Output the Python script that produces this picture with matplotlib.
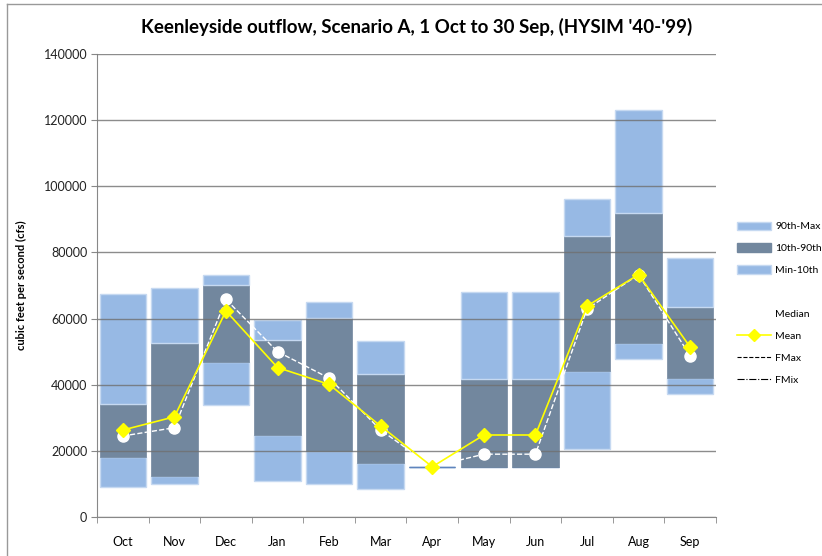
import numpy as np
import matplotlib
matplotlib.use("Agg")
import matplotlib.pyplot as plt
from matplotlib.lines import Line2D
from matplotlib.patches import Patch

plt.rcParams['font.family'] = ['Lato', 'DejaVu Sans']

months = ['Oct', 'Nov', 'Dec', 'Jan', 'Feb', 'Mar', 'Apr', 'May', 'Jun', 'Jul', 'Aug', 'Sep']

# flow percentiles (cfs)
q_min = [9000, 10100, 34000, 11000, 10100, 8400, 15200, 15200, 15200, 20600, 47700, 37100]
q_10 = [18000, 12400, 47000, 24700, 20000, 16200, 15200, 15200, 15200, 44100, 52600, 42000]
q_90 = [34300, 52700, 70200, 53500, 60100, 43200, 15200, 41700, 41700, 85000, 91800, 63500]
q_max = [67300, 69200, 73100, 59500, 65000, 53100, 15200, 68100, 68100, 96100, 123100, 78300]
median = [24500, 27000, 65800, 50000, 42000, 26300, 15200, 19000, 19000, 62900, 73300, 48700]
mean = [26300, 30300, 62300, 45200, 40100, 27500, 15200, 24800, 24800, 63800, 73300, 51400]

light = '#97b9e4'
dark = '#72879e'

x = np.arange(len(months))
q_min = np.array(q_min)
q_10 = np.array(q_10)
q_90 = np.array(q_90)
q_max = np.array(q_max)


def edges(h, normal):
    # zero-height segments show as a thin blue line
    return ['#5f85bd' if v == 0 else normal for v in h]


fig = plt.figure(figsize=(8.22, 5.56), dpi=100)
ax = fig.add_axes([0.118, 0.0701, 0.753, 0.8328])

w = 0.9
h_lo = q_10 - q_min
h_mid = q_90 - q_10
h_hi = q_max - q_90
ax.bar(x, h_lo, w, bottom=q_min, color=light, edgecolor=edges(h_lo, '#c6d9f1'), linewidth=1, zorder=2)
ax.bar(x, h_mid, w, bottom=q_10, color=dark, edgecolor=edges(h_mid, dark), linewidth=0.5, zorder=2)
ax.bar(x, h_hi, w, bottom=q_90, color=light, edgecolor=edges(h_hi, '#c6d9f1'), linewidth=1, zorder=2)

ax.plot(x, median, color='white', ls='--', lw=1, marker='o', ms=8,
        markerfacecolor='white', markeredgecolor='white', zorder=4)
ax.plot(x, mean, color='#ffff00', lw=1.2, marker='D', ms=7,
        markerfacecolor='#ffff00', markeredgecolor='#ffff00', zorder=5)

ax.set_xlim(-0.5, 11.5)
ax.set_ylim(0, 140000)
ax.set_yticks(np.arange(0, 140001, 20000))
ax.set_yticklabels([str(v) for v in range(0, 140001, 20000)], fontsize=9, color='#222222')
ax.yaxis.grid(True, color='#707070', lw=1, alpha=0.8)
ax.set_axisbelow(False)
for g in ax.get_ygridlines():
    g.set_zorder(3)

ax.set_xticks(x)
ax.set_xticklabels(months, fontsize=9)
ax.set_xticks(np.arange(-0.5, 12, 1), minor=True)
ax.tick_params(axis='x', which='major', length=0, pad=14)
ax.tick_params(axis='x', which='minor', length=4, color='#888888', direction='out')
ax.tick_params(axis='y', length=4, color='#888888', direction='out', pad=3)

for s in ['top', 'right']:
    ax.spines[s].set_visible(False)
for s in ['left', 'bottom']:
    ax.spines[s].set_color('#888888')

ax.set_ylabel('cubic feet per second (cfs)', fontsize=8, fontweight='bold', labelpad=12)

fig.text(0.507, 0.952, "Keenleyside outflow, Scenario A, 1 Oct to 30 Sep, (HYSIM '40-'99)",
         ha='center', va='center', fontsize=13.5, fontweight='bold')

handles = [
    Patch(facecolor=light, edgecolor='#c6d9f1'),
    Patch(facecolor=dark, edgecolor=dark),
    Patch(facecolor=light, edgecolor='#c6d9f1'),
    Patch(facecolor='none', edgecolor='none'),
    Line2D([], [], color='white', ls='--', marker='o', markerfacecolor='white', markeredgecolor='white'),
    Line2D([], [], color='#ffff00', lw=1.2, marker='D', ms=6, markerfacecolor='#ffff00', markeredgecolor='#ffff00'),
    Line2D([], [], color='black', ls='--', lw=0.8),
    Line2D([], [], color='black', ls='-.', lw=0.8),
]
labels = ['90th-Max', '10th-90th', 'Min-10th', '', 'Median', 'Mean', 'FMax', 'FMix']
fig.legend(handles, labels, loc='upper left', bbox_to_anchor=(0.897, 0.6015),
           frameon=False, fontsize=7.5, handlelength=3.2, handleheight=0.9,
           handletextpad=0.45, labelspacing=1.15, borderaxespad=0, borderpad=0)

# chart area border (only top and left visible)
fig.add_artist(Line2D([7 / 822, 7 / 822], [0, 1 - 4 / 556], transform=fig.transFigure, color='#999999', lw=1))
fig.add_artist(Line2D([7 / 822, 1], [1 - 4 / 556, 1 - 4 / 556], transform=fig.transFigure, color='#999999', lw=1))

fig.savefig('out.png', dpi=100)
